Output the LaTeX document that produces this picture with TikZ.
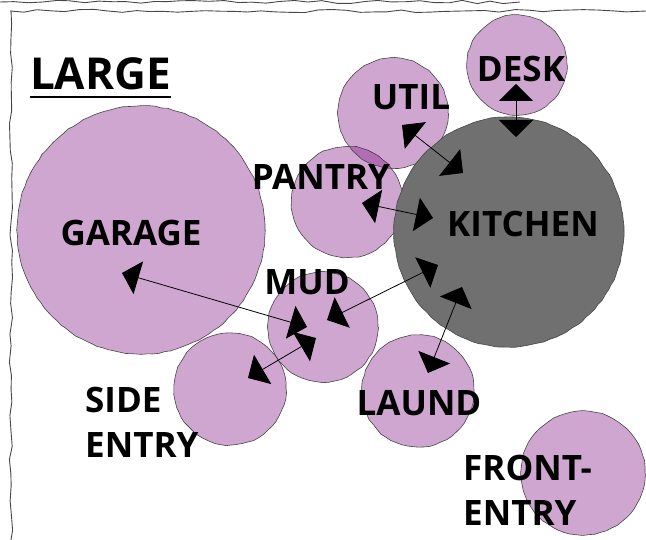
\documentclass[tikz,border=0pt]{standalone}
\usepackage{fontspec}
\setmainfont{Open Sans}
\usetikzlibrary{arrows.meta, decorations.pathmorphing}

\definecolor{roomfill}{RGB}{120,4,122}
\definecolor{kitchenfill}{RGB}{112,112,112}
\definecolor{edgegray}{RGB}{70,70,70}

\tikzset{
	room/.style={circle, inner sep=0pt, draw=edgegray, line width=0.6pt,
		fill=roomfill, fill opacity=0.354, decorate,
		decoration={random steps, segment length=6pt, amplitude=0.5pt}},
	kitchenroom/.style={room, fill=kitchenfill, fill opacity=1},
	roomlabel/.style={inner sep=0pt, font=\fontsize{35}{42}\selectfont\bfseries},
	link/.style={{Triangle[length=17pt,width=34pt]}-{Triangle[length=17pt,width=34pt]}, line width=0.8pt},
	sketchline/.style={edgegray, line width=0.9pt, decorate,
		decoration={random steps, segment length=14pt, amplitude=1.6pt}}
}

\begin{document}
\begin{tikzpicture}[x=1pt, y=-1pt]
		\pgfmathsetseed{7}
		\useasboundingbox (0,0) rectangle (646,540);
		
		% Sheet edges
		\draw[sketchline] (0,2) -- (520,2);
		\draw[sketchline] (10,11) -- (646,11);
		\draw[sketchline] (11,11) -- (11,540);
		
		% Rooms (purple bubbles)
		\node[room, minimum size=248pt] (garage) at (141,230) {};
		\node[room, minimum size=112pt] (side)   at (230,389) {};
		\node[room, minimum size=110pt] (mud)    at (323,327) {};
		\node[room, minimum size=111pt] (pantry) at (347,202) {};
		\node[room, minimum size=110pt] (util)   at (393,113) {};
		\node[room, minimum size=100pt] (desk)   at (517,65) {};
		\node[room, minimum size=112pt] (laund)  at (418,391) {};
		\node[room, minimum size=124pt] (front)  at (583,473) {};
		
		% Kitchen (grey bubble)
		\node[kitchenroom, minimum size=230pt] (kitchen) at (509,232) {};
		
		% Arrow end points
		\coordinate (desk-k)    at (516,84);
		\coordinate (kitchen-d) at (516,137);
		\coordinate (util-k)    at (402,125);
		\coordinate (kitchen-u) at (463,173);
		\coordinate (pantry-k)  at (362,203);
		\coordinate (kitchen-p) at (433,218);
		\coordinate (mud-k)     at (327,320);
		\coordinate (kitchen-m) at (438,265);
		\coordinate (laund-k)   at (428,373);
		\coordinate (kitchen-l) at (462,287);
		\coordinate (garage-m)  at (122,273);
		\coordinate (mud-g)     at (307,327);
		\coordinate (side-m)    at (248,378);
		\coordinate (mud-s)     at (316,338);
		
		% Adjacencies
		\draw[link] (desk-k) -- (kitchen-d);
		\draw[link] (util-k) -- (kitchen-u);
		\draw[link] (pantry-k) -- (kitchen-p);
		\draw[link] (mud-k) -- (kitchen-m);
		\draw[link] (laund-k) -- (kitchen-l);
		\draw[link] (garage-m) -- (mud-g);
		\draw[link] (side-m) -- (mud-s);
		
		% Labels
		\node[roomlabel, font=\fontsize{44}{50}\selectfont\bfseries, anchor=base] (title) at (100.5,90) {LARGE};
		\draw[line width=2.6pt] ([yshift=-7pt]title.base west) -- ([yshift=-7pt]title.base east);
		
		\node[roomlabel, anchor=base] (desklbl)    at (521,82)  {DESK};
		\node[roomlabel, anchor=base] (utillbl)    at (411,110) {UTIL};
		\node[roomlabel, anchor=base] (pantrylbl)  at (321,190) {PANTRY};
		\node[roomlabel, anchor=base] (kitchenlbl) at (523,237) {KITCHEN};
		\node[roomlabel, anchor=base] (garagelbl)  at (131,246) {GARAGE};
		\node[roomlabel, anchor=base] (mudlbl)     at (307,295) {MUD};
		\node[roomlabel, anchor=base] (laundlbl)   at (419,415) {LAUND};
		\node[roomlabel, anchor=base west] (sidelbl)   at (85,412)  {SIDE};
		\node[roomlabel, anchor=base west] (sidelblb)  at (85,457)  {ENTRY};
		\node[roomlabel, anchor=base west] (frontlbl)  at (463,480) {FRONT-};
		\node[roomlabel, anchor=base west] (frontlblb) at (463,525) {ENTRY};
		
	\end{tikzpicture}
\end{document}
